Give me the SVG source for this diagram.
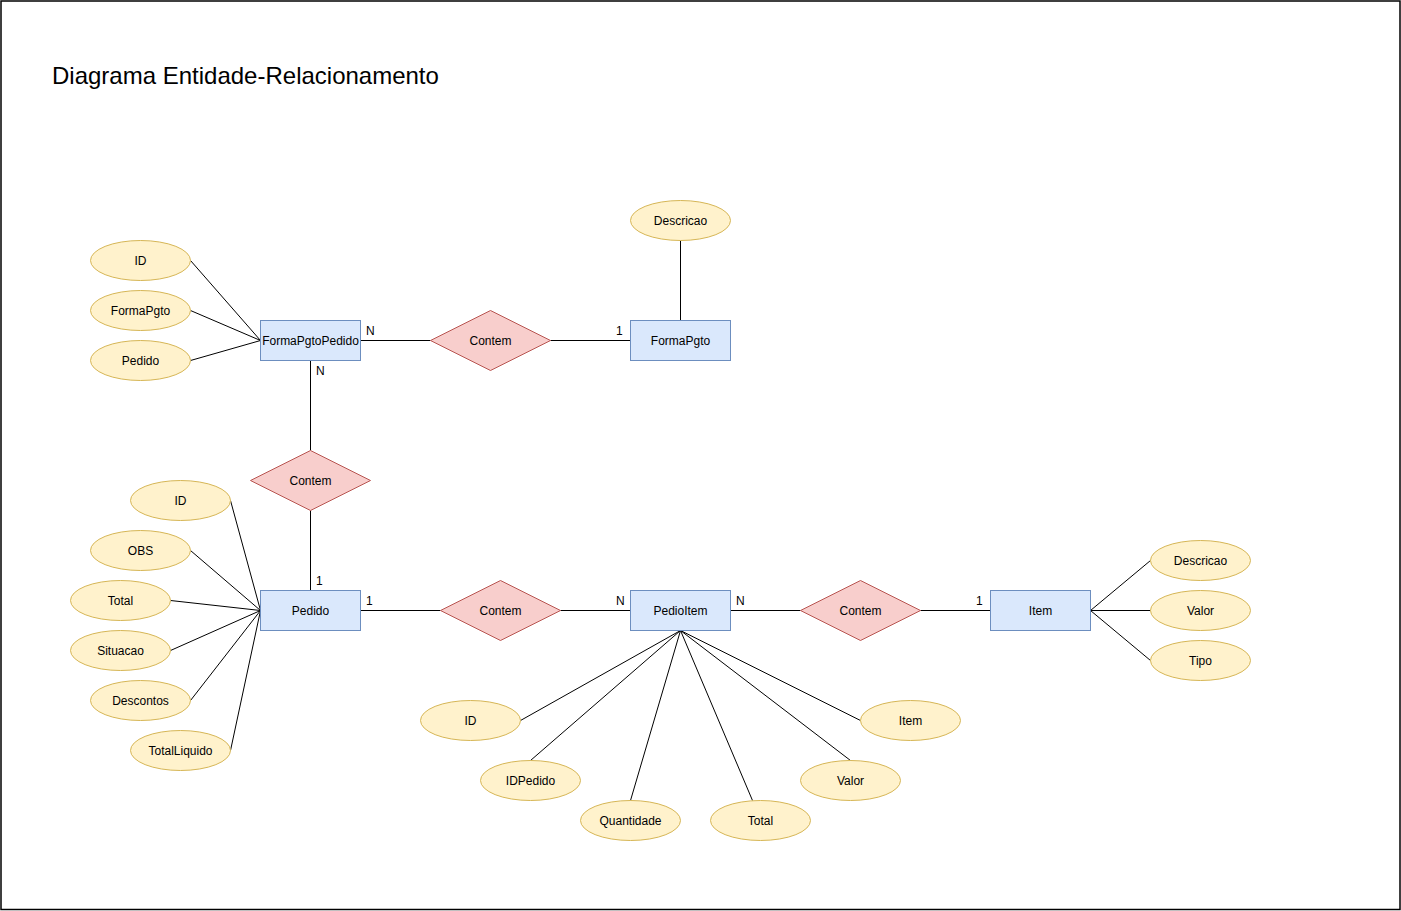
<svg xmlns="http://www.w3.org/2000/svg" width="1401" height="911" viewBox="0 0 1401 911">
<style>
text{font-family:"Liberation Sans",Arial,sans-serif;font-size:12px;fill:#000}
.t{text-anchor:middle}
.ent{fill:#dae8fc;stroke:#6c8ebf;stroke-width:1}
.rel{fill:#f8cecc;stroke:#b85450;stroke-width:1}
.att{fill:#fff2cc;stroke:#d6b656;stroke-width:1}
.ln{stroke:#000;stroke-width:1;fill:none}
.card{font-size:12px}
</style>
<rect x="0" y="0" width="1401" height="911" fill="#fff"/>
<rect x="1" y="1" width="1399" height="908.5" fill="none" stroke="#000" stroke-width="1.5"/>
<text x="52" y="84" style="font-size:24px">Diagrama Entidade-Relacionamento</text>

<g transform="translate(0.5,0.5)">
<g id="connectors" class="ln">
<path class="ln" d="M190 260L260 340M190 310L260 340M190 360L260 340"/>
<path class="ln" d="M680 240L680 320"/>
<path class="ln" d="M360 340L430 340M550 340L630 340"/>
<path class="ln" d="M310 360L310 450M310 510L310 590"/>
<path class="ln" d="M230 500L260 610M190 550L260 610M170 600L260 610M170 650L260 610M190 700L260 610M230 750L260 610"/>
<path class="ln" d="M360 610L440 610M560 610L630 610M730 610L800 610M920 610L990 610"/>
<path class="ln" d="M680 630L520 720M680 630L530 760M680 630L630 800M680 630L752 800M680 630L850 760M680 630L860 720"/>
<path class="ln" d="M1090 610L1150 560M1090 610L1150 610M1090 610L1150 660"/>
</g>
</g>
<g id="cardinalities">
<text class="card" x="366" y="335">N</text>
<text class="card" x="616" y="335">1</text>
<text class="card" x="316" y="375">N</text>
<text class="card" x="316" y="585">1</text>
<text class="card" x="366" y="605">1</text>
<text class="card" x="616" y="605">N</text>
<text class="card" x="736" y="605">N</text>
<text class="card" x="976" y="605">1</text>
</g>

<g id="FormaPgtoPedido"><rect class="ent" x="260.5" y="320.5" width="100" height="40"/><text class="t" x="310.5" y="345">FormaPgtoPedido</text></g>
<g id="FormaPgto"><rect class="ent" x="630.5" y="320.5" width="100" height="40"/><text class="t" x="680.5" y="345">FormaPgto</text></g>
<g id="Pedido"><rect class="ent" x="260.5" y="590.5" width="100" height="40"/><text class="t" x="310.5" y="615">Pedido</text></g>
<g id="PedioItem"><rect class="ent" x="630.5" y="590.5" width="100" height="40"/><text class="t" x="680.5" y="615">PedioItem</text></g>
<g id="Item"><rect class="ent" x="990.5" y="590.5" width="100" height="40"/><text class="t" x="1040.5" y="615">Item</text></g>

<g id="rel1"><path class="rel" d="M430.5 340.5L490.5 310.5L550.5 340.5L490.5 370.5Z"/><text class="t" x="490.5" y="345">Contem</text></g>
<g id="rel2"><path class="rel" d="M250.5 480.5L310.5 450.5L370.5 480.5L310.5 510.5Z"/><text class="t" x="310.5" y="485">Contem</text></g>
<g id="rel3"><path class="rel" d="M440.5 610.5L500.5 580.5L560.5 610.5L500.5 640.5Z"/><text class="t" x="500.5" y="615">Contem</text></g>
<g id="rel4"><path class="rel" d="M800.5 610.5L860.5 580.5L920.5 610.5L860.5 640.5Z"/><text class="t" x="860.5" y="615">Contem</text></g>

<g id="fpp_ID"><ellipse class="att" cx="140.5" cy="260.5" rx="50" ry="20"/><text class="t" x="140.5" y="265">ID</text></g>
<g id="fpp_FormaPgto"><ellipse class="att" cx="140.5" cy="310.5" rx="50" ry="20"/><text class="t" x="140.5" y="315">FormaPgto</text></g>
<g id="fpp_Pedido"><ellipse class="att" cx="140.5" cy="360.5" rx="50" ry="20"/><text class="t" x="140.5" y="365">Pedido</text></g>
<g id="fp_Descricao"><ellipse class="att" cx="680.5" cy="220.5" rx="50" ry="20"/><text class="t" x="680.5" y="225">Descricao</text></g>

<g id="p_ID"><ellipse class="att" cx="180.5" cy="500.5" rx="50" ry="20"/><text class="t" x="180.5" y="505">ID</text></g>
<g id="p_OBS"><ellipse class="att" cx="140.5" cy="550.5" rx="50" ry="20"/><text class="t" x="140.5" y="555">OBS</text></g>
<g id="p_Total"><ellipse class="att" cx="120.5" cy="600.5" rx="50" ry="20"/><text class="t" x="120.5" y="605">Total</text></g>
<g id="p_Situacao"><ellipse class="att" cx="120.5" cy="650.5" rx="50" ry="20"/><text class="t" x="120.5" y="655">Situacao</text></g>
<g id="p_Descontos"><ellipse class="att" cx="140.5" cy="700.5" rx="50" ry="20"/><text class="t" x="140.5" y="705">Descontos</text></g>
<g id="p_TotalLiquido"><ellipse class="att" cx="180.5" cy="750.5" rx="50" ry="20"/><text class="t" x="180.5" y="755">TotalLiquido</text></g>

<g id="pi_ID"><ellipse class="att" cx="470.5" cy="720.5" rx="50" ry="20"/><text class="t" x="470.5" y="725">ID</text></g>
<g id="pi_IDPedido"><ellipse class="att" cx="530.5" cy="780.5" rx="50" ry="20"/><text class="t" x="530.5" y="785">IDPedido</text></g>
<g id="pi_Quantidade"><ellipse class="att" cx="630.5" cy="820.5" rx="50" ry="20"/><text class="t" x="630.5" y="825">Quantidade</text></g>
<g id="pi_Total"><ellipse class="att" cx="760.5" cy="820.5" rx="50" ry="20"/><text class="t" x="760.5" y="825">Total</text></g>
<g id="pi_Valor"><ellipse class="att" cx="850.5" cy="780.5" rx="50" ry="20"/><text class="t" x="850.5" y="785">Valor</text></g>
<g id="pi_Item"><ellipse class="att" cx="910.5" cy="720.5" rx="50" ry="20"/><text class="t" x="910.5" y="725">Item</text></g>

<g id="i_Descricao"><ellipse class="att" cx="1200.5" cy="560.5" rx="50" ry="20"/><text class="t" x="1200.5" y="565">Descricao</text></g>
<g id="i_Valor"><ellipse class="att" cx="1200.5" cy="610.5" rx="50" ry="20"/><text class="t" x="1200.5" y="615">Valor</text></g>
<g id="i_Tipo"><ellipse class="att" cx="1200.5" cy="660.5" rx="50" ry="20"/><text class="t" x="1200.5" y="665">Tipo</text></g>
</svg>
